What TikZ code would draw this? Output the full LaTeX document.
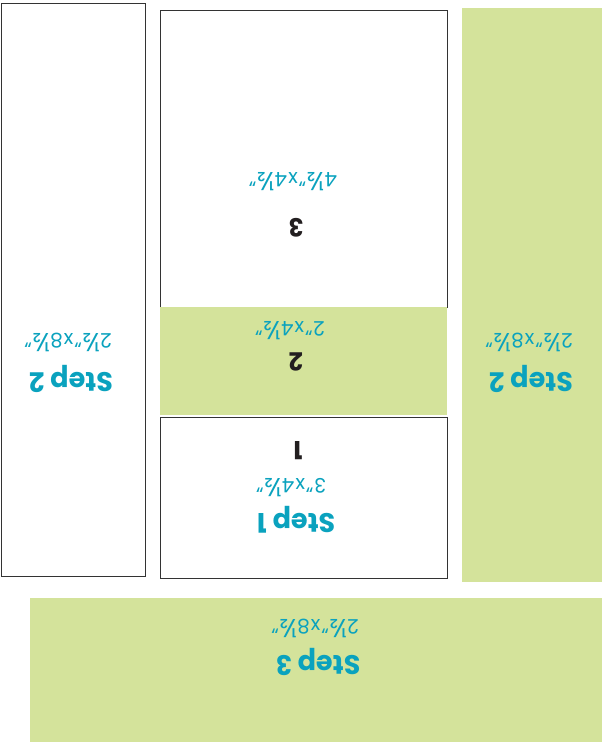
\documentclass[tikz,border=0pt]{standalone}
\usepackage{fontspec}
\usepackage{graphicx}
\setmainfont{Poppins}
\definecolor{leafgreen}{HTML}{D4E39B}
\definecolor{stepcyan}{HTML}{0AA2BE}
\definecolor{inkblack}{HTML}{231F20}
% wide fraction half, as in the cutting plan
\newcommand{\halfin}{\kern0.5pt\scalebox{1.3}{½}\kern0.5pt}
\begin{document}
\begin{tikzpicture}[
  x=1pt, y=-1pt,
  piece/.style={draw=black!80, line width=0.9pt, fill=white},
  greenpiece/.style={fill=leafgreen, draw=none},
  steplabel/.style={rotate=180, text=stepcyan, font=\fontsize{27}{27}\selectfont\bfseries, inner sep=0pt},
  sizelabel/.style={rotate=180, text=stepcyan, font=\fontsize{20}{20}\selectfont\addfontfeature{LetterSpace=4}, inner sep=0pt},
  numlabel/.style={rotate=180, text=inkblack, font=\fontsize{25}{25}\selectfont\bfseries, inner sep=0pt}
]
  \useasboundingbox (0,0) rectangle (602,746);

  % pieces
  \draw[piece] (1,3) rectangle (145,576);
  \fill[greenpiece] (462,8) rectangle (602,582);
  \draw[piece] (160,10) rectangle (447,307);
  \fill[greenpiece] (160,307) rectangle (447,415);
  \draw[piece] (160,417) rectangle (447,578);
  \fill[greenpiece] (30,598) rectangle (602,742);

  % left strip
  \node[steplabel] (stepleft) at (71,379) {Step 2};
  \node[sizelabel] (sizeleft) at (68,342) {2\halfin"x8\halfin"};

  % right strip
  \node[steplabel] (stepright) at (531,379) {Step 2};
  \node[sizelabel] (sizeright) at (529,342) {2\halfin"x8\halfin"};

  % middle stack
  \node[numlabel] (numthree) at (296,228) {3};
  \node[sizelabel] (sizethree) at (293,182) {4\halfin"x4\halfin"};
  \node[numlabel] (numtwo) at (296,362) {2};
  \node[sizelabel] (sizetwo) at (290,331) {2"x4\halfin"};
  \node[numlabel] (numone) at (298,451) {1};
  \node[sizelabel] (sizeone) at (291,488) {3"x4\halfin"};
  \node[steplabel] (stepone) at (296,520) {Step 1};

  % bottom strip
  \node[steplabel] (stepbottom) at (318,662) {Step 3};
  \node[sizelabel] (sizebottom) at (315,628) {2\halfin"x8\halfin"};
\end{tikzpicture}
\end{document}
